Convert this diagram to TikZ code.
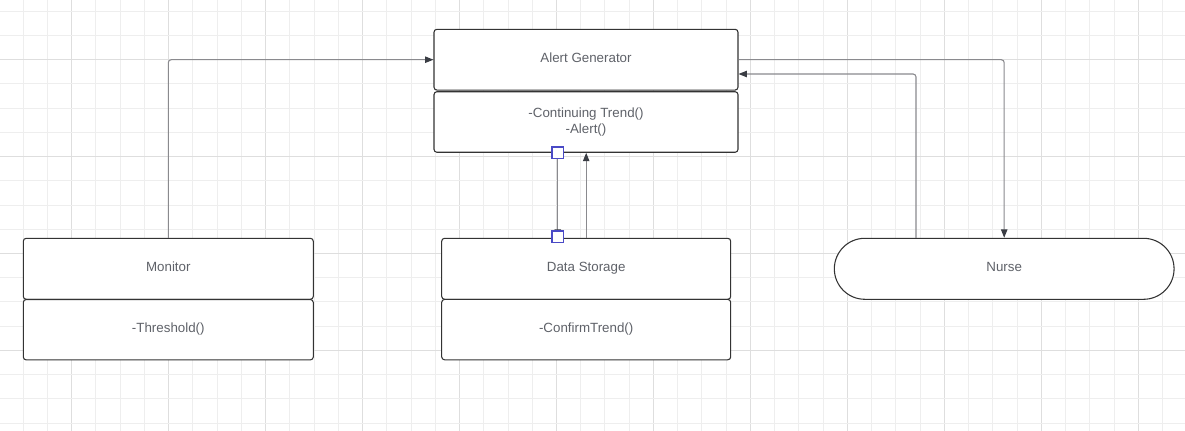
\documentclass[tikz,border=0pt]{standalone}
\usepackage{fontspec}
\setmainfont{Liberation Sans}
\usetikzlibrary{arrows.meta,calc,shapes.misc}
\definecolor{gridminor}{HTML}{EEEEEE}
\definecolor{gridmajor}{HTML}{DEDEDE}
\definecolor{boxline}{HTML}{333333}
\definecolor{txt}{HTML}{5F6269}
\definecolor{conn}{HTML}{8A8A8E}
\definecolor{tipc}{HTML}{3A3D44}
\definecolor{handle}{HTML}{4A4AC6}
\begin{document}
\begin{tikzpicture}[x=0.75pt,y=-0.75pt,
  minorgrid/.style={draw=gridminor,line width=0.75pt},
  majorgrid/.style={draw=gridmajor,line width=0.75pt},
  umlbox/.style={draw=boxline,fill=white,line width=0.8pt,rounded corners=2.2pt,
    text=txt,font=\fontsize{10pt}{12pt}\selectfont,align=center,inner sep=0pt},
  oneline/.style={text height=7.2pt,text depth=3.6pt},
  pill/.style={draw=boxline,fill=white,line width=0.8pt,rounded rectangle,
    text=txt,font=\fontsize{10pt}{12pt}\selectfont,inner sep=0pt},
  conline/.style={draw=conn,line width=0.8pt,rounded corners=2.2pt,
    -{Triangle[length=6.3pt,width=4.8pt,color=tipc]}},
  handlebox/.style={draw=handle,fill=white,line width=1.1pt,minimum size=8.4pt,inner sep=0pt}]
\useasboundingbox (0,0) rectangle (1185,431);
\fill[white] (0,0) rectangle (1185,431);
% grid
\foreach \k in {-2,...,45}{
  \pgfmathsetmacro\xx{71.7+\k*24.24}
  \pgfmathtruncatemacro\m{mod(\k+400,4)}
  \ifnum\m=0 \draw[majorgrid] (\xx,0)--(\xx,431); \else \draw[minorgrid] (\xx,0)--(\xx,431); \fi
}
\foreach \k in {-2,...,15}{
  \pgfmathsetmacro\yy{59.7+\k*24.22}
  \pgfmathtruncatemacro\m{mod(\k+400,4)}
  \ifnum\m=0 \draw[majorgrid] (0,\yy)--(1185,\yy); \else \draw[minorgrid] (0,\yy)--(1185,\yy); \fi
}
% boxes
\node[umlbox,oneline,minimum width=228pt,minimum height=45.6pt] (ag) at (586,59.7) {Alert Generator};
\node[umlbox,minimum width=228pt,minimum height=45.4pt] (ops) at (586,122) {-Continuing Trend()\\[0.5pt]-Alert()};
\node[umlbox,oneline,minimum width=217.5pt,minimum height=45.75pt] (mon) at (168.3,268.8) {Monitor};
\node[umlbox,oneline,minimum width=217.5pt,minimum height=45.3pt] (monop) at (168.3,329.7) {-Threshold()};
\node[umlbox,oneline,minimum width=216.75pt,minimum height=45.75pt] (ds) at (586.2,268.8) {Data Storage};
\node[umlbox,oneline,minimum width=216.75pt,minimum height=45.3pt] (dsop) at (586.2,329.6) {-ConfirmTrend()};
\node[pill,oneline,minimum width=254.8pt,minimum height=45.75pt] (nurse) at (1004.2,268.8) {Nurse};
% connectors
\draw[conline] (mon.north) |- (ag.west);
\draw[conline] (ag.east) -| (nurse.north);
\coordinate (nq) at ($(nurse.north)+(-88.2,0)$);
\coordinate (ae) at ($(ag.east)+(0,14.3)$);
\draw[conline] (nq) |- (ae);
\coordinate (p1) at ($(ops.south)+(-28.3,0)$);
\coordinate (p2) at (p1 |- ds.north);
\draw[conline] (p1) -- (p2);
\draw[conline] (ds.north) -- (ds.north |- ops.south);
\node[handlebox] (h1) at (p1) {};
\node[handlebox] (h2) at ($(p2)+(0,-1)$) {};
\end{tikzpicture}
\end{document}
